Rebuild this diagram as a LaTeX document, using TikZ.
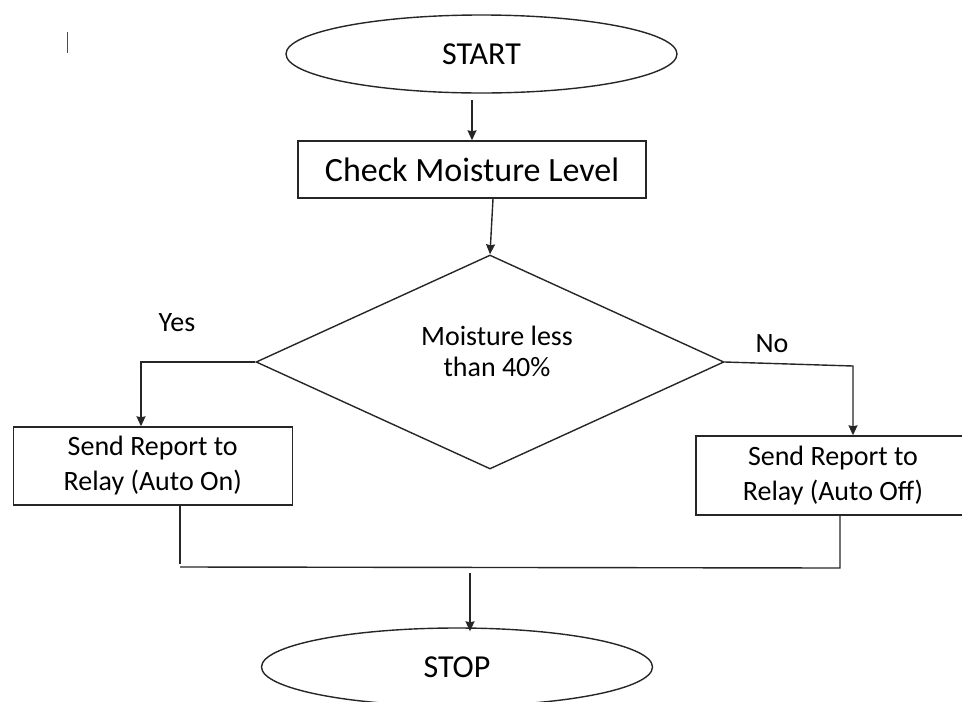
\documentclass[tikz,border=0pt]{standalone}
\usepackage{fontspec}
\setmainfont{Carlito}
\usetikzlibrary{shapes.geometric,arrows.meta}
\begin{document}
\begin{tikzpicture}[x=1pt,y=-1pt,
  line width=1.4pt, draw=black!85,
  term/.style={ellipse,draw,minimum width=391pt,minimum height=78pt,inner sep=0pt,
    font=\fontsize{32}{38}\selectfont},
  procbox/.style={rectangle,draw,inner sep=0pt,align=center,
    font=\fontsize{28}{35}\selectfont},
  decis/.style={diamond,draw,minimum width=468pt,minimum height=214pt,inner sep=0pt},
  lbl/.style={inner sep=0pt,font=\fontsize{28}{31}\selectfont,align=center},
  arr/.style={-{Stealth[length=10pt,width=9pt,inset=1pt]}}]
\useasboundingbox (0,0) rectangle (962,702);
\clip (0,0) rectangle (962,702);
% cursor mark
\draw[line width=1pt,black!70] (67,32) -- (67,53);
% nodes
\node[term] (start) at (481.5,54) {START};
\node[procbox,minimum width=348pt,minimum height=57pt,font=\fontsize{34}{40}\selectfont] (check) at (472,169.5) {Check Moisture Level};
\node[decis] (dia) at (490,362) {};
\node[lbl] (dtext) at (497,351) {Moisture less\\than 40\%};
\node[procbox,minimum width=279pt,minimum height=78pt] (lbox) at (152.75,466) {Send Report to\\Relay (Auto On)};
\node[procbox,minimum width=274pt,minimum height=79pt] (rbox) at (833,475.5) {Send Report to\\Relay (Auto Off)};
\node[lbl] (yes) at (177,323) {Yes};
\node[lbl] (no) at (772,344) {No};
\node[term] (stop) at (457,667) {STOP};
% junction coordinates
\coordinate (jl) at (180,567);
\coordinate (jr) at (840,568);
\coordinate (jm) at (470,573);
% connectors
\draw[arr] ([yshift=-6pt]start.south -| check.north) -- (check.north);
\draw[arr] ([xshift=21pt]check.south) -- (dia.north);
\draw[arr] (dia.west) -- (141,362) -- ([xshift=-11.75pt]lbox.north);
\draw[arr] (dia.east) -- (853,366) -- ([xshift=20pt]rbox.north);
\draw ([xshift=27.25pt]lbox.south) -- ([yshift=3pt]jl);
\draw (jl) -- (jr) -- ([xshift=7pt]rbox.south);
\draw[arr] (jm) -- ([yshift=-4pt]jm |- stop.north);
\end{tikzpicture}
\end{document}
